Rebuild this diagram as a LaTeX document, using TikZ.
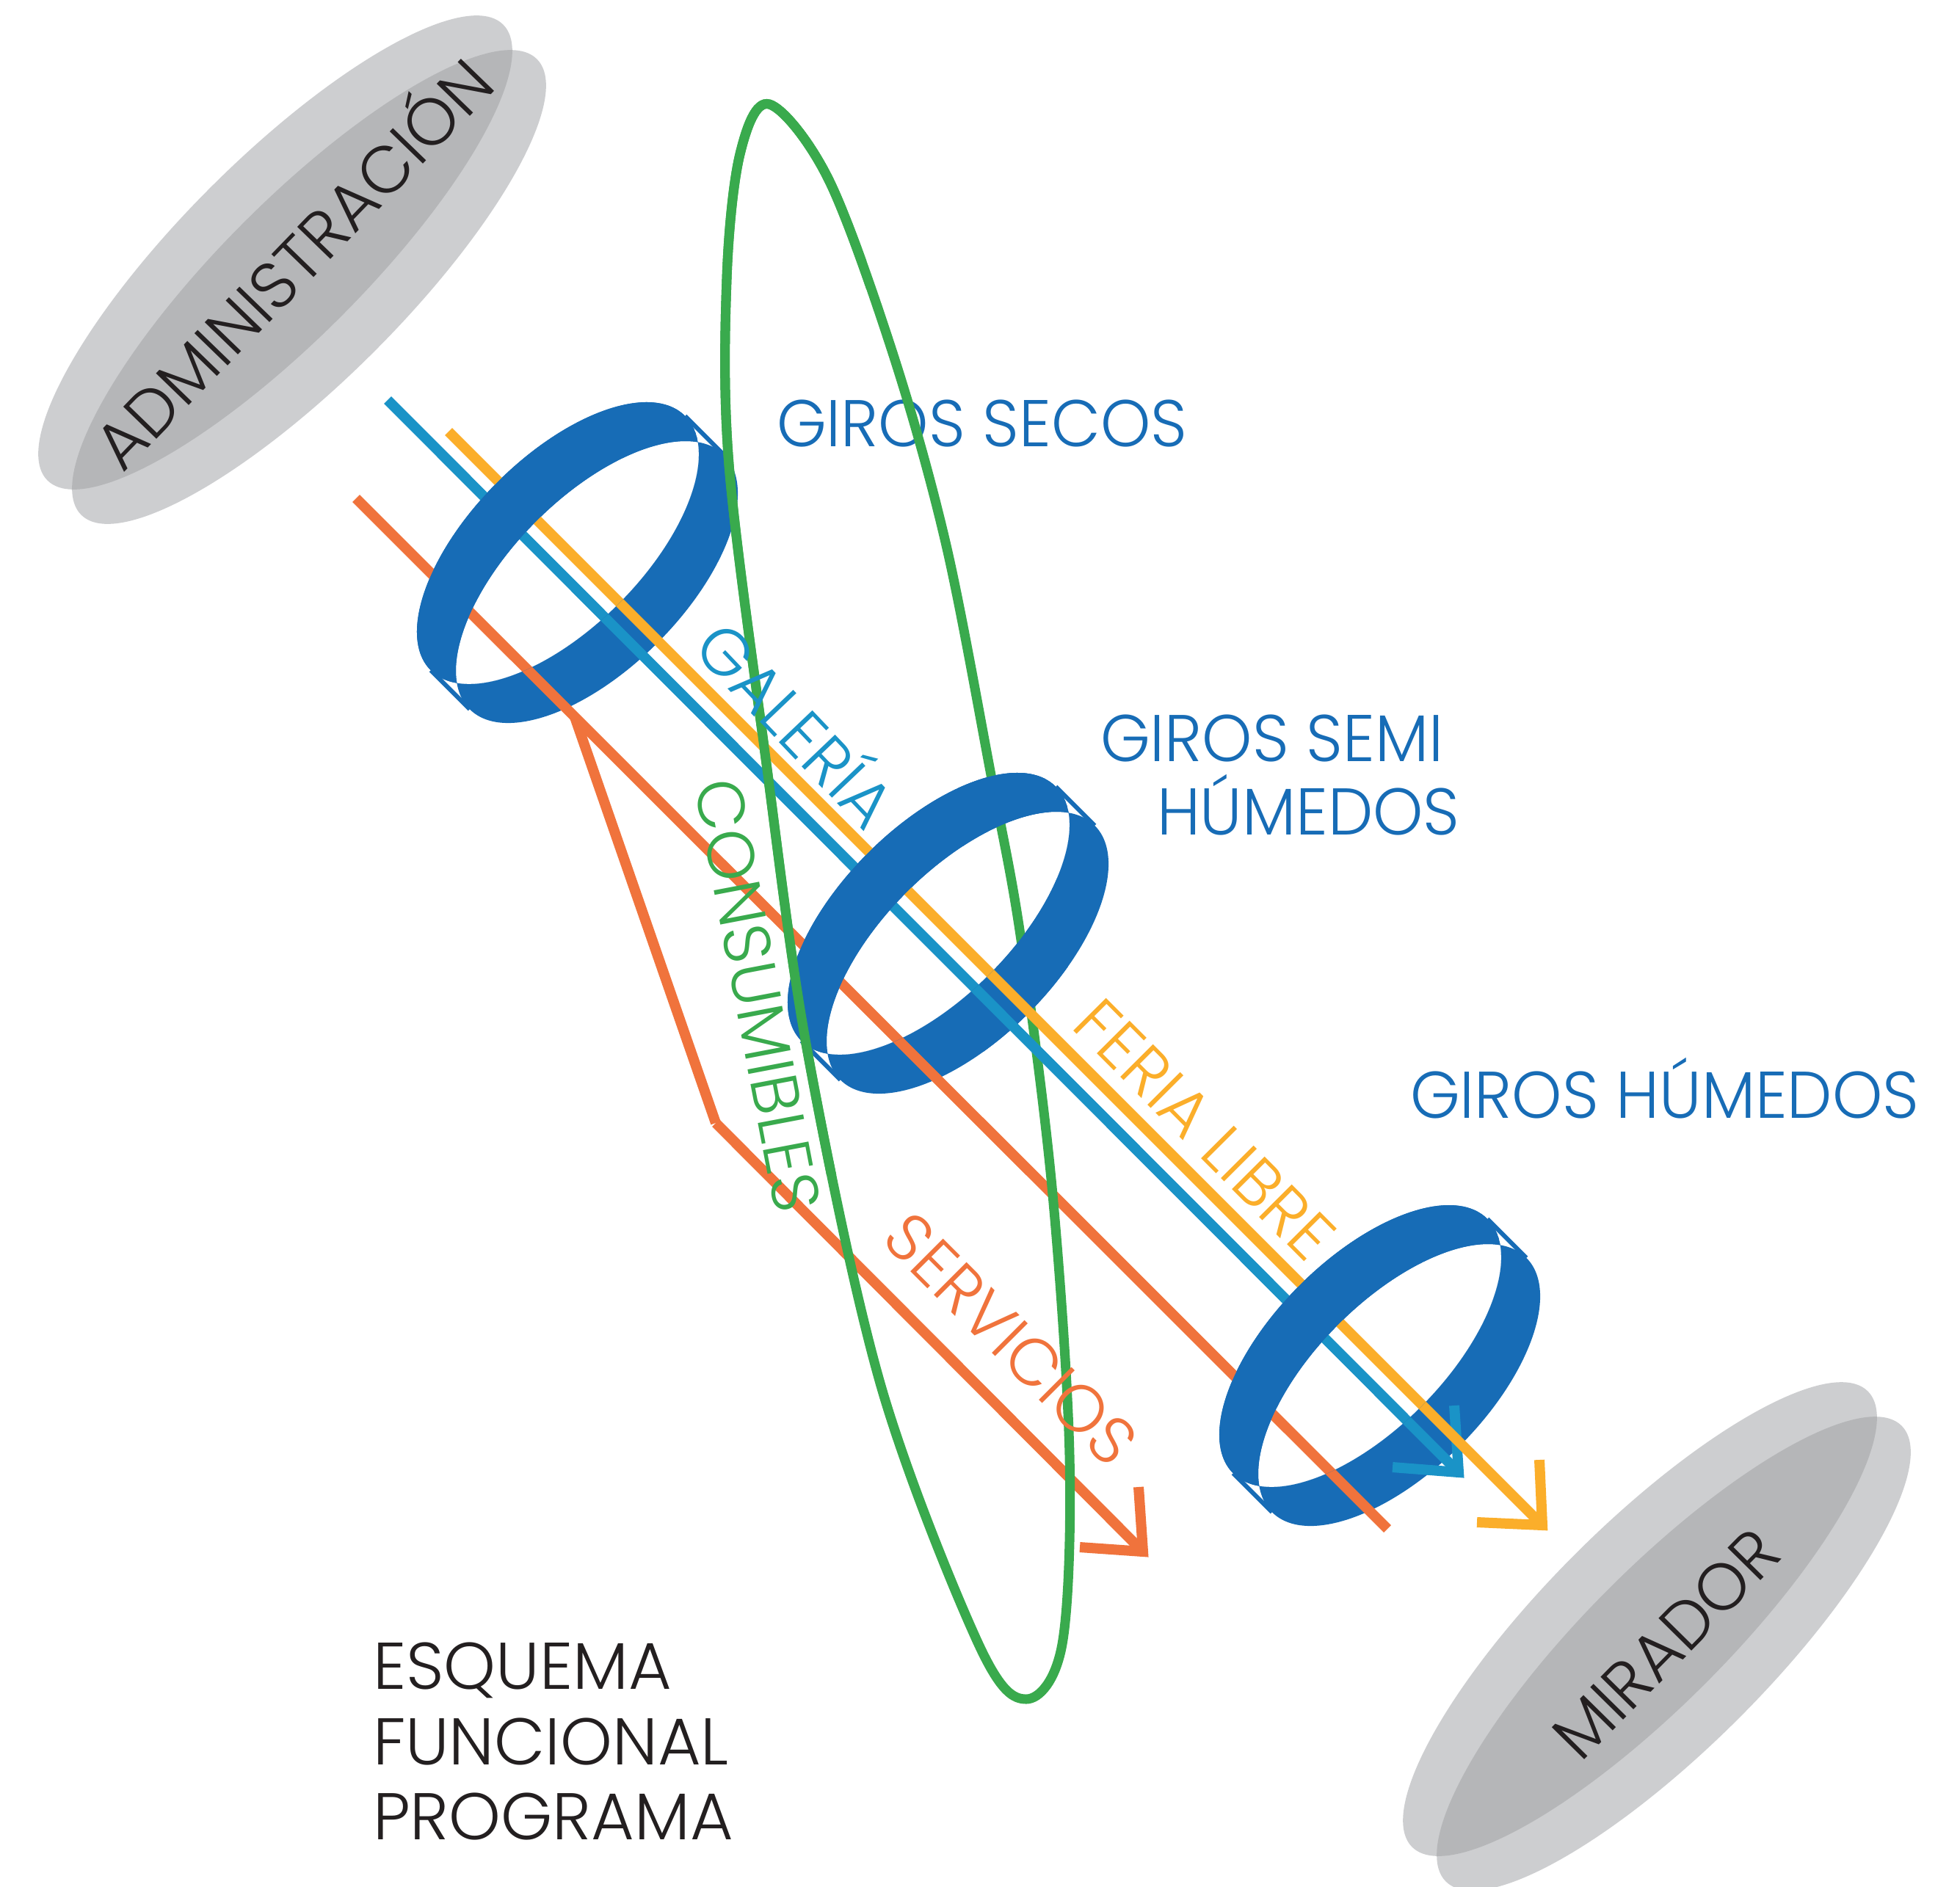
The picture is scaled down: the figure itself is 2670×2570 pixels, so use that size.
\documentclass[tikz,border=0pt]{standalone}
\usepackage{fontspec}
\IfFontExistsTF{Poppins Light}{\setmainfont{Poppins Light}}{\setmainfont{Poppins}}
\usetikzlibrary{calc}
\definecolor{ringblue}{RGB}{23,108,182}
\definecolor{cyanl}{RGB}{26,147,199}
\definecolor{yell}{RGB}{251,174,42}
\definecolor{oran}{RGB}{240,115,60}
\definecolor{greenl}{RGB}{57,170,77}
\definecolor{grayl}{RGB}{205,206,208}
\definecolor{grayd}{RGB}{181,182,184}
\definecolor{ink}{RGB}{35,31,32}

\tikzset{
  lbl/.style={font=\fontsize{90}{100}\selectfont, inner sep=0pt, outer sep=0pt},
  girolbl/.style={lbl, text=ringblue, anchor=base west, xscale=0.965},
  flow/.style={line width=14pt, line cap=butt},
  chev/.style={line width=14pt, line cap=butt, line join=miter},
  loopline/.style={greenl, line width=13pt},
}

\newcommand\grayblob[2]{%
  \fill[grayl, rotate around={45:(#1,#2)}] (#1,#2) circle[x radius=439, y radius=125];
  \fill[grayl, rotate around={45:({#1+46},{#2+47})}] ({#1+46},{#2+47}) circle[x radius=439, y radius=125];
  \begin{scope}
    \clip[rotate around={45:(#1,#2)}] (#1,#2) circle[x radius=439, y radius=125];
    \fill[grayd, rotate around={45:({#1+46},{#2+47})}] ({#1+46},{#2+47}) circle[x radius=439, y radius=125];
  \end{scope}}

\newcommand\ringE[2]{(#1,#2) circle[x radius=245, y radius=117]}
\newcommand\ringF[2]{(#1,{#2+75}) circle[x radius=245, y radius=117]}
\newcommand\ringband[2]{%
  \begin{scope}[rotate around={45:(#1,#2)}]
    \fill[ringblue, even odd rule] \ringE{#1}{#2} \ringF{#1}{#2};
    \draw[ringblue, line width=6pt] ({#1+245},#2) -- ({#1+245},{#2+75});
    \draw[ringblue, line width=6pt] ({#1-245},#2) -- ({#1-245},{#2+75});
  \end{scope}}
\newcommand\ringfront[2]{%
  \begin{scope}[rotate around={45:(#1,#2)}]
    \clip \ringE{#1}{#2};
    \fill[ringblue, even odd rule] \ringE{#1}{#2} \ringF{#1}{#2};
  \end{scope}}

\newcommand\greenloop[1]{%
  \draw[#1] plot[smooth cycle, tension=0.55] coordinates {
    (1048,142) (1129,245) (1218,487) (1289,743) (1350,1056) (1390,1274)
    (1433,1617) (1457,1983) (1447,2240) (1398,2315) (1333,2240) (1200,1888)
    (1100,1433) (1043,1033) (993,633) (990,380) (1008,210)};}

\begin{document}
\begin{tikzpicture}[x=1pt, y=-1pt]
\useasboundingbox (0,0) rectangle (2670,2570);
\fill[white] (0,0) rectangle (2670,2570);

% gray blobs
\grayblob{375}{344}
\grayblob{2234}{2206}
\node[lbl, text=ink, rotate=45.9, anchor=base] (adm) at (423,382) {ADMINISTRACIÓN};
\node[lbl, text=ink, rotate=45.4, anchor=base] (mir) at (2292,2262) {MIRADOR};

\node[girolbl] (gsec) at (1058,608) {GIROS SECOS};

% coordinates of flows
\coordinate (oS) at (485,679);  \coordinate (oE) at (1890,2083);
\coordinate (bA) at (783,977);  \coordinate (bB) at (975,1530); \coordinate (bC) at (1557,2114);
\coordinate (oL) at (1471,2108); \coordinate (oU) at (1551,2026);
\coordinate (cS) at (528,545);  \coordinate (cC) at (1987,2006);
\coordinate (cL) at (1897,1999); \coordinate (cU) at (1981,1915);
\coordinate (yS) at (611,588);  \coordinate (yC) at (2101,2078);
\coordinate (yL) at (2012,2074); \coordinate (yU) at (2097,1989);

% ring backs
\ringband{760}{740}
\ringband{1265}{1245}
\ringband{1853}{1834}

% orange flows
\draw[flow, oran] (oS) -- (oE);
\draw[flow, oran] (bA) -- (bB);
\draw[flow, oran] (bB) -- (bC);
\draw[chev, oran] (oL) -- (bC) -- (oU);

% green loop
\greenloop{loopline}

% ring 2 over the right side of the loop
\begin{scope}
  \clip (1300,1030) -- (1420,1030) -- (1470,1440) -- (1340,1440) -- cycle;
  \ringband{1265}{1245}
\end{scope}

% cyan and yellow flows
\draw[flow, cyanl] (cS) -- (cC);
\draw[chev, cyanl] (cL) -- (cC) -- (cU);
\draw[flow, yell] (yS) -- (yC);
\draw[chev, yell] (yL) -- (yC) -- (yU);

% ring fronts
\ringfront{760}{740}
\ringfront{1265}{1245}
\ringfront{1853}{1834}

% left side of the loop on top
\begin{scope}
  \clip (900,100) rectangle (1180,1600);
  \greenloop{loopline}
\end{scope}

% labels
\node[girolbl] (gsem) at (1499,1037) {GIROS SEMI};
\node[girolbl] (ghum) at (1576,1137) {HÚMEDOS};
\node[girolbl] (gh) at (1921,1523) {GIROS HÚMEDOS};
\node[lbl, text=cyanl, rotate=-46.4, anchor=base] (gal) at (1060,1010) {GALERÍA};
\node[lbl, text=greenl, rotate=-79.2, anchor=base] (con) at (1001,1362) {CONSUMIBLES};
\node[lbl, text=yell, rotate=-45.1, anchor=base] (fer) at (1619,1561) {FERIA LIBRE};
\node[lbl, text=oran, rotate=-45, anchor=base] (ser) at (1355,1847) {SERVICIOS};
\node[lbl, text=ink, anchor=base west] (t1) at (508,2301) {ESQUEMA};
\node[lbl, text=ink, anchor=base west] (t2) at (508,2404) {FUNCIONAL};
\node[lbl, text=ink, anchor=base west] (t3) at (508,2506) {PROGRAMA};
\end{tikzpicture}
\end{document}
